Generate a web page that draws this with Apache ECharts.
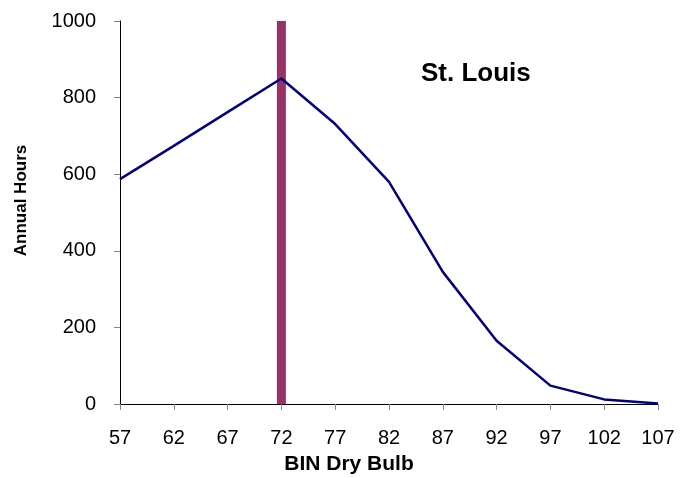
<!DOCTYPE html>
<html>
<head>
<meta charset="utf-8">
<script src="https://cdn.jsdelivr.net/npm/echarts@6/dist/echarts.min.js"></script>
<style>
  html, body { margin: 0; padding: 0; background: #fff; }
  #chart { width: 680px; height: 478px; }
</style>
</head>
<body>
<div id="chart"></div>
<script>
const binTemps = ['57', '62', '67', '72', '77', '82', '87', '92', '97', '102', '107']
const annualHours = [587, 674, 762, 850, 731, 580, 345, 165, 48, 12, 1]
// design point marker at 72 F, full height of the axis
const designBar = [null, null, null, 1000, null, null, null, null, null, null, null]

const font = '"Liberation Sans", Arial, sans-serif'
const chart = echarts.init(document.getElementById('chart'), null, { renderer: 'canvas' })

chart.setOption({
  animation: false,
  backgroundColor: '#fff',
  title: {
    text: 'St. Louis',
    left: 416,
    top: 56,
    textStyle: { fontFamily: font, fontSize: 26, fontWeight: 'bold', color: '#000' },
  },
  grid: { left: 120, right: 22, top: 21, bottom: 74, outerBoundsMode: 'none' },
  xAxis: {
    type: 'category',
    data: binTemps,
    boundaryGap: false,
    name: 'BIN Dry Bulb',
    nameLocation: 'middle',
    nameGap: 50,
    nameTextStyle: { fontFamily: font, fontSize: 21, fontWeight: 'bold', color: '#000', padding: [0, 80, 0, 0] },
    axisLine: { lineStyle: { color: '#000', width: 1 } },
    axisTick: { length: 6, lineStyle: { color: '#888' } },
    axisLabel: { fontFamily: font, fontSize: 20, color: '#000', margin: 24 },
    splitLine: { show: false },
  },
  yAxis: {
    type: 'value',
    min: 0,
    max: 1000,
    interval: 200,
    name: 'Annual Hours',
    nameLocation: 'middle',
    nameGap: 90,
    nameTextStyle: { fontFamily: font, fontSize: 17, fontWeight: 'bold', color: '#000', padding: [0, 0, 0, 24] },
    axisLine: { show: true, lineStyle: { color: '#000', width: 1 } },
    axisTick: { show: true, length: 6, lineStyle: { color: '#888' } },
    axisLabel: { fontFamily: font, fontSize: 20, color: '#000', margin: 24, formatter: v => String(v) },
    splitLine: { show: false },
  },
  series: [
    {
      type: 'bar',
      data: designBar,
      barWidth: 9,
      itemStyle: { color: '#993366' },
      silent: true,
    },
    {
      type: 'line',
      data: annualHours,
      symbol: 'none',
      lineStyle: { color: '#000080', width: 2.5 },
      z: 5,
    },
  ],
})
</script>
</body>
</html>
